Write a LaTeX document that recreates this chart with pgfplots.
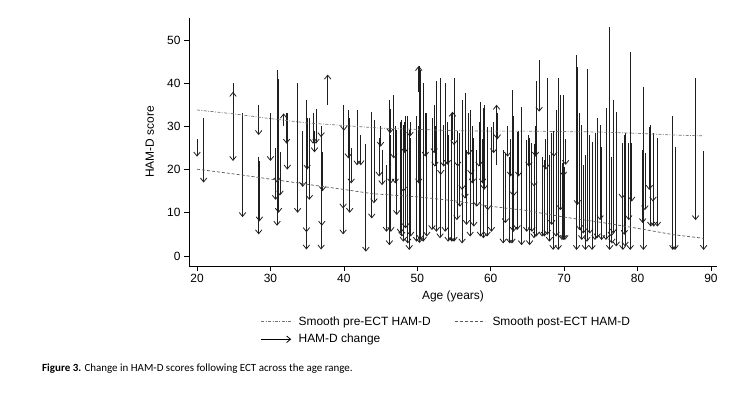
\documentclass[border=0pt]{standalone}
\usepackage{pgfplots}
\pgfplotsset{compat=1.18}
\usepackage{pgfplotstable}
\usetikzlibrary{arrows.meta}
\usepackage{fontspec}
\setmainfont{Liberation Sans}
\newfontfamily\capfont{Carlito}

\pgfplotstableread{
age pre post
20.0 27 23
20.9 32 17
24.9 40 22
24.9 34 38
26.2 33 9
28.4 35 28
28.4 23 5
28.5 22 8
30.0 33 22
30.7 25 13
30.9 29 7
30.9 43 17
31.1 41 10
31.3 24 14
31.8 30 33
32.2 33 26
32.3 33 20
33.7 40 10
34.4 29 16
34.9 36 1.5
34.9 32 5.5
35.0 32 20
35.3 32 13
35.8 33 26
36.0 29 24
36.2 34 26
36.9 30 27.5
36.9 30 1.5
37.0 24 7
37.1 24 15
37.8 35 42
39.9 35 5
39.9 24 11
40.0 35 29
40.6 33.8 22.6
40.8 32 10
41.0 25 16.8
41.8 33.8 21
42.3 28 21
43.0 26 1
43.8 33.4 8.7
44.1 31.5 12.2
44.8 27.2 18.4
45.0 30 25.3
45.2 24.5 16.4
45.8 21 5.6
46.2 36.1 2.5
46.3 34 28.4
46.4 28 5.6
46.4 26 16.8
46.8 37.3 22.6
47.0 30 16.8
47.2 29.2 9.5
47.7 31.1 5.2
47.9 31.5 4.5
48.1 30.3 3.3
48.1 27 14.9
48.3 31 23.8
48.4 32.3 6.4
48.7 32.3 2.9
48.9 29.2 1.4
49.0 31 27.6
49.1 27.2 4.5
49.9 32.3 3.3
50.2 38 44
50.2 30 16.8
50.3 44 3
50.4 43 3.7
50.8 40 3.3
51.1 33 23
51.3 33 4.5
52.0 31.9 6
52.3 35 23.8
52.4 30 20.7
52.6 40.4 5.6
53.1 41.1 4.1
53.2 29 18.8
53.6 30.3 20.7
53.8 40 5.6
54.1 31 21.1
54.2 28 3.3
54.7 33 3.3
54.8 26.9 33.4
55.0 41.1 3.3
55.0 32 25.7
55.4 26.9 8.3
55.5 29 20.7
55.8 28.4 11.4
56.1 36.1 2.9
56.1 27 15.3
56.5 37.7 13.3
56.7 24.5 7.2
57.0 33 23.4
57.2 33.8 4.5
57.3 28 18.8
57.5 30 16.8
57.7 27.2 6.8
58.1 24.5 11.4
58.4 31 20.7
58.6 35.7 4.5
58.9 27 16.8
59.0 34.2 4.1
59.1 35 15.3
59.5 29.9 4.5
59.6 26 10.6
60.1 29.9 5.6
60.4 31 23.8
60.8 21 35
60.9 33 27
61.7 24.5 2.9
62.0 23.8 7.6
62.3 30 23
62.6 23 2.9
62.7 27 18.4
62.9 38.4 2.9
63.1 32.3 5.6
63.1 25 13.8
63.6 28.8 6
63.8 29 18.4
64.2 34.6 2.5
64.9 26.9 5.6
65.2 28 20.7
65.3 27.2 2.5
65.6 26.1 5.6
65.9 25.3 4.1
65.9 26 16.1
66.1 30 23
66.2 40.4 4.5
66.6 45.4 33.4
67.0 23 4.5
67.3 22.2 4.5
67.5 27 20
67.7 41.1 4.9
68.0 23.4 3.3
68.3 28.4 7.2
68.5 26.5 1.4
68.6 29 23
68.9 33.8 4.5
69.2 41.1 1.4
69.5 37.3 10.6
69.7 21.5 3.7
69.9 37.3 3.7
69.9 25 18.4
70.1 20.7 3.7
70.2 27 21.1
71.7 46.5 1.4
71.8 43.8 11.8
72.1 33 6
72.4 30.3 3.7
72.6 21.1 5.2
72.9 23.4 1.4
73.1 43.2 3.3
73.5 28 5.2
73.8 26.5 1.4
74.2 28.4 3.7
74.5 31.9 4.1
74.9 30.3 8.3
75.1 25.3 3.7
75.7 34.2 3.7
76.2 53.1 1.4
76.4 23 4.5
76.5 16.8 2.9
76.7 36.1 5.2
77.1 33.4 2.2
77.9 21 13.3
78.0 26.1 1.4
78.2 28 4.9
78.3 28.4 2.2
78.8 26.1 8.3
79.0 47.3 1.4
79.2 26.1 12.6
80.7 24.5 7.6
80.8 39.2 1.4
81.0 23.8 10.6
81.6 29.9 15.3
81.8 30.3 6.8
82.1 28.4 12.6
82.2 23.4 6.8
82.7 27.2 6.8
84.8 32.3 1.4
85.1 25.3 1.4
87.9 41.1 8.3
89.0 24.2 1.4
}\hamd

\pgfplotstableread{
age val
20 33.8
25 32.9
30 31.8
35 30.8
40 30.2
45 29.6
50 29.3
55 29.0
60 28.9
65 28.9
70 28.8
75 28.7
80 28.4
85 28.0
89 27.8
}\presmooth

\pgfplotstableread{
age val
20 20.1
25 19.0
30 17.8
35 16.6
40 15.4
44 14.4
50 13.7
55 12.8
60 11.5
65 10.5
70 9.0
75 7.8
80 6.4
85 4.9
89 4.1
}\postsmooth

\begin{document}
\begin{tikzpicture}[x=1bp,y=1bp]
\path[use as bounding box] (0,0) rectangle (749,399);
\begin{axis}[
  at={(189bp,133bp)}, anchor=south west,
  scale only axis, width=528bp, height=248bp,
  xmin=18.91, xmax=90.82, ymin=-2.315, ymax=55.09,
  axis x line*=bottom, axis y line*=left,
  axis line style={line width=0.7bp, black},
  tick align=outside, major tick length=5bp,
  tick style={line width=0.7bp, black},
  xtick={20,30,40,50,60,70,80,90},
  ytick={0,10,20,30,40,50},
  /pgf/number format/assume math mode=true,
  ticklabel style={font=\fontsize{12}{14}\selectfont},
  label style={font=\fontsize{12}{14}\selectfont},
  xlabel={Age (years)},
  ylabel={HAM-D score},
  xlabel style={at={(axis description cs:0.5,-0.121)}, anchor=center},
  ylabel style={at={(axis description cs:-0.074,0.5)}, anchor=center},
  legend style={at={(axis description cs:0.13,-0.187)}, anchor=north west,
    draw=none, fill=none, font=\fontsize{12}{14}\selectfont,
    /tikz/every even column/.append style={column sep=22bp},
    row sep=3.5bp},
  legend columns=2,
  legend cell align=left,
  legend image code/.code={\draw[#1] (0bp,0bp) -- (30bp,0bp); \node[inner sep=0pt, minimum size=0pt] at (35bp,0bp) {};},
  clip=false,
]
\addplot[forget plot, quiver={u=0, v=\thisrow{post}-\thisrow{pre}},
  -{Straight Barb[length=4bp,width=6.5bp]}, line width=0.8bp, black!88]
  table[x=age, y=pre] {\hamd};
\addplot[no marks, line width=0.7bp, black!55,
  dash pattern=on 3bp off 1.5bp on 0.8bp off 1.5bp]
  table[x=age, y=val] {\presmooth};
\addlegendentry{Smooth pre-ECT HAM-D}
\addplot[no marks, line width=0.7bp, black!65,
  dash pattern=on 3bp off 2bp]
  table[x=age, y=val] {\postsmooth};
\addlegendentry{Smooth post-ECT HAM-D}
\addlegendimage{-{Straight Barb[length=4bp,width=6.5bp]}, line width=0.8bp, black}
\addlegendentry{HAM-D change}
\end{axis}
\node[anchor=base west, inner sep=0pt, font=\capfont\fontsize{11}{13}\selectfont] at (42,28)
  {\textbf{Figure 3.} Change in HAM-D scores following ECT across the age range.};
\end{tikzpicture}
\end{document}
